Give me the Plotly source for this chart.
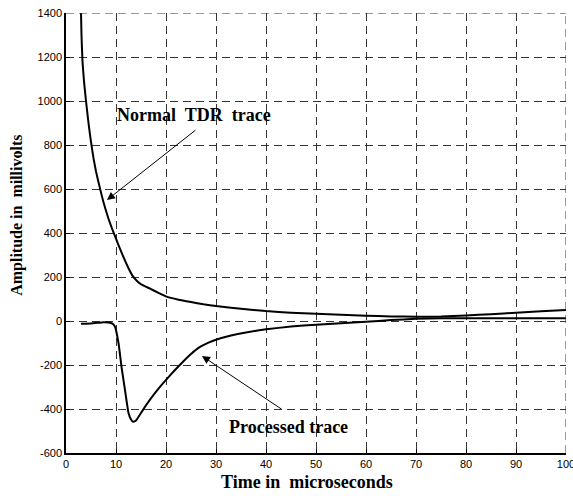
import plotly.graph_objects as go

# Normal TDR trace (time in microseconds, amplitude in millivolts)
normal_t = [3.0, 3.1, 3.3, 3.6, 4.0, 4.5, 4.9, 5.5, 6.0, 6.7, 7.5, 8.5, 9.5, 10.5, 11.5, 12.5, 13.4, 14.2, 15.0, 16.8,
            18.5, 20.0, 22.5, 25.0, 27.5, 30.0, 35.0, 40.0, 45.0, 50.0, 55.0, 60.0, 65.0, 70.0, 75.0, 80.0, 85.0, 90.0, 95.0, 100.0]
normal_v = [1400, 1300, 1180, 1090, 1000, 900, 830, 740, 680, 612, 540, 465, 403, 345, 290, 240, 203, 182, 167, 147,
            128, 112, 97, 86, 76, 68, 56, 45, 38, 33, 28, 24, 21, 19, 20, 25, 31, 38, 44, 50]

# Processed trace
proc_t = [3.0, 5.0, 6.5, 7.5, 8.5, 9.3, 9.8, 10.5, 11.1, 11.8, 12.5, 13.0, 13.4, 14.0, 14.8, 15.8, 16.8, 18.5, 20.1, 21.7,
          23.4, 25.0, 26.8, 28.5, 30.0, 33.0, 36.0, 40.0, 45.0, 50.0, 55.0, 60.0, 65.0, 70.0, 75.0, 80.0, 90.0, 100.0]
proc_v = [-12, -11, -8, -6, -7, -12, -26, -100, -208, -314, -418, -448, -458, -452, -425, -390, -357, -307, -265, -225,
          -185, -150, -118, -98, -85, -66, -52, -38, -25, -17, -10, -3, 4, 10, 12, 12, 12, 12]

x_ticks = [0, 10, 20, 30, 40, 50, 60, 70, 80, 90, 100]
y_ticks = [-600, -400, -200, 0, 200, 400, 600, 800, 1000, 1200, 1400]

labels = ["Normal  TDR  trace", "Processed trace"]
x_title = "Time in  microseconds"
y_title = "Amplitude in  millivolts"

fig = go.Figure()
for tt, vv in ((normal_t, normal_v), (proc_t, proc_v)):
    fig.add_trace(go.Scatter(x=tt, y=vv, mode="lines",
                             line=dict(color="black", width=2, shape="spline", smoothing=0.4),
                             showlegend=False, hoverinfo="skip"))

serif = "Liberation Serif, Times New Roman, serif"
sans = "Liberation Sans, Arial, sans-serif"

fig.add_annotation(x=8.2, y=550, ax=26.2, ay=873, axref="x", ayref="y", xref="x", yref="y",
                   text="", showarrow=True, arrowhead=2, arrowsize=1.6, arrowwidth=1, arrowcolor="black")
fig.add_annotation(x=25.6, y=936, text="<b>%s</b>" % labels[0], showarrow=False,
                   font=dict(family=serif, size=18, color="black"))
fig.add_annotation(x=27.2, y=-159, ax=43.4, ay=-405, axref="x", ayref="y", xref="x", yref="y",
                   text="", showarrow=True, arrowhead=2, arrowsize=1.6, arrowwidth=1, arrowcolor="black")
fig.add_annotation(x=44.4, y=-482, text="<b>%s</b>" % labels[1], showarrow=False,
                   font=dict(family=serif, size=18, color="black"))

# axis titles
fig.add_annotation(x=0.482, y=-0.066, xref="paper", yref="paper", xanchor="center", yanchor="middle",
                   text="<b>%s</b>" % x_title, showarrow=False,
                   font=dict(family=serif, size=18, color="black"))
fig.add_annotation(x=-0.098, y=0.539, xref="paper", yref="paper", xanchor="center", yanchor="middle",
                   text="<b>%s</b>" % y_title, textangle=-90, showarrow=False,
                   font=dict(family=serif, size=16, color="black"))

grid = dict(showgrid=True, gridcolor="#333333", gridwidth=1, griddash="8px,5px")

# edge grid lines (top and right) drawn dashed like the rest of the grid
fig.add_shape(type="line", xref="x", yref="y", x0=100, x1=100, y0=-600, y1=1400,
              line=dict(color="#333333", width=1, dash="8px,5px"))
fig.add_shape(type="line", xref="x", yref="y", x0=0, x1=100, y0=1400, y1=1400,
              line=dict(color="#333333", width=1, dash="8px,5px"))

fig.update_xaxes(range=[0, 100], tickvals=x_ticks, ticktext=[str(v) for v in x_ticks],
                 showline=True, linecolor="black", linewidth=1.5, mirror=False,
                 ticks="inside", ticklen=4, tickcolor="black", ticklabeloverflow="allow",
                 tickfont=dict(family=sans, size=11, color="black"),
                 automargin=False, zeroline=False, **grid)
fig.update_yaxes(range=[-600, 1400], tickvals=y_ticks, ticktext=[str(v) for v in y_ticks],
                 showline=True, linecolor="black", linewidth=1.5, mirror=False,
                 ticks="inside", ticklen=4, tickcolor="black",
                 tickfont=dict(family=sans, size=11, color="black"),
                 automargin=False, zeroline=False, **grid)

fig.update_layout(width=573, height=496, margin=dict(l=66, r=7, t=13, b=43),
                  plot_bgcolor="white", paper_bgcolor="white")

fig.write_html("out.html", config={"displayModeBar": False},
               post_script="document.body.style.margin='0';document.body.style.overflow='hidden';")
